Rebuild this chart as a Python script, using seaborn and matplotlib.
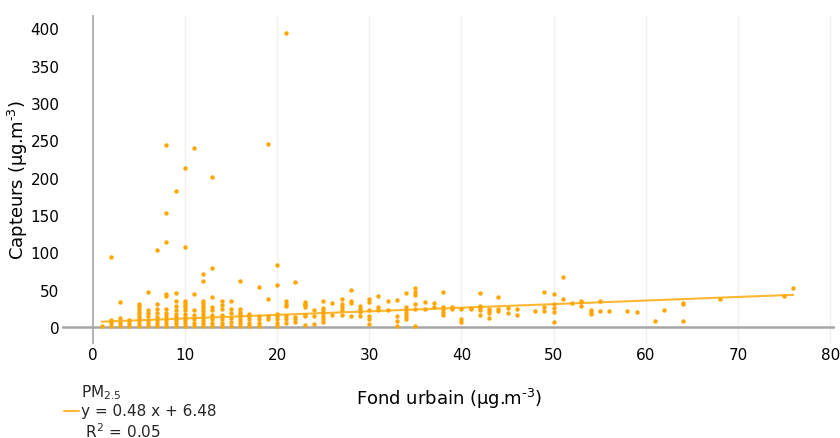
import pandas as pd
import numpy as np
import seaborn as sns
import matplotlib.pyplot as plt

# PM2.5 : fond urbain (x) vs capteurs (y), one row per x value
fond_urbain = (
    [1] + [2]*4 + [3]*4 + [4]*3 + [5]*9 + [6]*7 + [7]*8 + [8]*11 + [9]*10
    + [10]*12 + [11]*7 + [12]*12 + [13]*9 + [14]*7 + [15]*6 + [16]*8
    + [17]*5 + [18]*5 + [19]*4 + [20]*7 + [21]*7 + [22]*4 + [23]*7
    + [24]*3 + [25]*7 + [26]*2 + [27]*5 + [28]*4 + [29]*4 + [30]*6
    + [31]*3 + [32]*2 + [33]*4 + [34]*6 + [35]*6 + [36]*2 + [37]*2
    + [38]*5 + [39]*2 + [40]*3 + [41]*2 + [42]*5 + [43]*4 + [44]*3
    + [45]*2 + [46]*2 + [48] + [49]*3 + [50]*5 + [51]*2 + [52] + [53]*3
    + [54]*3 + [55]*2 + [56] + [58] + [59] + [61] + [62] + [64]*3
    + [68] + [75] + [76]
)
capteurs = [
    1,
    1, 5, 9, 94,
    1, 5, 12, 33,
    1, 5, 9,
    1, 5, 9, 13, 17, 20, 24, 28, 31,
    1, 5, 9, 14, 18, 22, 47,
    1, 5, 9, 13, 18, 24, 30, 103,
    1, 5, 9, 14, 19, 24, 41, 44, 114, 153, 244,
    1, 5, 9, 13, 17, 22, 28, 34, 46, 182,
    1, 5, 9, 13, 17, 22, 26, 29, 32, 35, 107, 213,
    1, 5, 10, 16, 23, 44, 240,
    1, 5, 9, 13, 17, 21, 25, 28, 32, 35, 61, 71,
    1, 5, 10, 16, 22, 26, 40, 79, 201,
    1, 5, 10, 16, 24, 29, 34,
    1, 6, 12, 18, 24, 35,
    1, 5, 9, 13, 17, 20, 24, 62,
    1, 5, 10, 14, 17,
    1, 5, 10, 14, 53,
    10, 14, 38, 245,
    1, 5, 10, 14, 17, 56, 83,
    5, 10, 15, 28, 31, 34, 393,
    6, 10, 13, 60,
    2, 14, 16, 27, 29, 31, 33,
    4, 15, 22,
    6, 10, 15, 19, 22, 25, 35,
    16, 32,
    16, 22, 26, 30, 37,
    15, 32, 34, 49,
    15, 20, 24, 28,
    4, 10, 15, 22, 33, 38,
    22, 26, 41,
    22, 34,
    1, 8, 15, 36,
    10, 15, 19, 22, 26, 45,
    1, 24, 31, 43, 47, 52,
    24, 33,
    27, 32,
    16, 20, 24, 27, 47,
    24, 26,
    6, 11, 24,
    24, 25,
    16, 22, 25, 28, 46,
    12, 19, 21, 24,
    21, 24, 40,
    19, 25,
    16, 24,
    21,
    21, 27, 47,
    7, 20, 25, 31, 44,
    38, 67,
    32,
    28, 33, 35,
    17, 20, 22,
    21, 34,
    21,
    21,
    20,
    8,
    22,
    8, 30, 32,
    38,
    41,
    52,
]

# linear fit shown on the chart
slope = 0.48
intercept = 6.48
r2 = 0.05

df = pd.DataFrame({'fond': fond_urbain, 'capteurs': capteurs})

sns.set_theme(style='white')
plt.rcParams['font.family'] = ['DejaVu Sans']

fig = plt.figure(figsize=(8.4, 4.39), dpi=100)
ax = fig.add_axes([0.074, 0.214, 0.920, 0.750])

# light vertical grid + gray zero lines
for gx in range(10, 90, 10):
    ax.axvline(gx, color='#f0f0f0', linewidth=1, zorder=0)
ax.axhline(0, color='#a6a6a6', linewidth=1.8, zorder=1)
ax.axvline(0, color='#a6a6a6', linewidth=1.2, zorder=1)

sns.scatterplot(data=df, x='fond', y='capteurs', color='#FFA500',
                s=10, linewidth=0, ax=ax, zorder=3)

x_fit = np.array([df['fond'].min(), df['fond'].max()])
ax.plot(x_fit, slope * x_fit + intercept, color='#FFB733', linewidth=1.5,
        zorder=2,
        label=f'PM$_{{2.5}}$\ny = {slope:.2f} x + {intercept:.2f}\n R$^2$ = {r2:.2f}')

ax.set_xlim(-3.3, 80.5)
ax.set_ylim(-23, 418)
ax.set_xticks(range(0, 90, 10))
ax.set_yticks(range(0, 450, 50))
ax.tick_params(length=0, labelsize=11, pad=2, labelcolor='black')
for s in ax.spines.values():
    s.set_visible(False)

unit = 'µg.m$^{\\text{-}3}$'
ax.set_xlabel(f'Fond urbain ({unit})', fontsize=13, labelpad=17, color='black')
ax.set_ylabel(f'Capteurs ({unit})', fontsize=13, color='black')
ax.yaxis.set_label_coords(-0.041, 0.5)

fig.legend(loc='upper left', bbox_to_anchor=(0.076, 0.128), frameon=False,
           fontsize=11, handlelength=1.0, handletextpad=0.15,
           borderpad=0, borderaxespad=0)

fig.savefig('out.png', dpi=100)
